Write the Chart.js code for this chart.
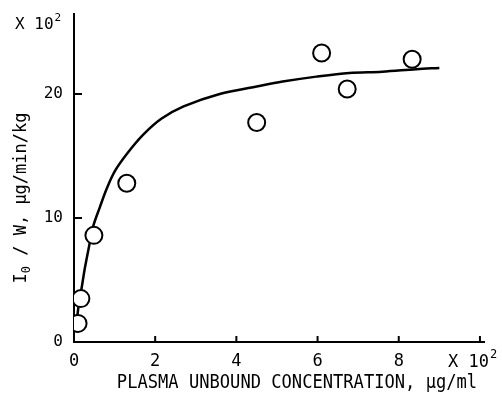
<!DOCTYPE html>
<html><head><meta charset="utf-8">
<script src="https://cdn.jsdelivr.net/npm/chart.js@4"></script>
<style>html,body{margin:0;padding:0;background:#fff}</style>
</head><body>
<canvas id="c" width="502" height="400"></canvas>
<script>
// fitted curve (x in 10^2 µg/ml, y in 10^2 µg/min/kg)
const curveX = [0.06, 0.1, 0.2, 0.27, 0.37, 0.47, 0.64, 0.81, 1.01, 1.31, 1.7, 2.15, 2.7, 3.59, 4.5, 5.14, 5.97, 6.78, 7.59, 8.43, 9.0];
const curveY = [1.2, 2.6, 4.6, 6.0, 7.7, 9.3, 10.9, 12.4, 13.8, 15.2, 16.7, 18.0, 19.0, 20.0, 20.6, 21.0, 21.4, 21.7, 21.8, 22.0, 22.1];
// observed points
const obsX = [0.1, 0.17, 0.49, 1.3, 4.5, 6.1, 6.73, 8.33];
const obsY = [1.5, 3.5, 8.6, 12.8, 17.7, 23.3, 20.4, 22.8];
const xTicks = [0, 2, 4, 6, 8, 10];
const yTicks = [0, 10, 20];
const xTitle = 'PLASMA UNBOUND CONCENTRATION, µg/ml';
const yTitleMain = 'I';
const yTitleSub = '0';
const yTitleRest = ' / W, µg/min/kg';
const multBase = 'X 10';
const multExp = '2';

const MONO = "'DejaVu Sans Mono', 'Liberation Mono', monospace";

const decor = {
  id: 'decor',
  afterDraw(chart) {
    const ctx = chart.ctx;
    const xs = chart.scales.x, ys = chart.scales.y;
    ctx.save();
    ctx.strokeStyle = '#000';
    ctx.fillStyle = '#000';
    ctx.lineWidth = 2;
    // inward tick marks
    yTicks.forEach(v => {
      if (v === 0) return;
      const py = ys.getPixelForValue(v);
      ctx.beginPath(); ctx.moveTo(xs.left, py); ctx.lineTo(xs.left + 8, py); ctx.stroke();
    });
    xTicks.forEach(v => {
      if (v === 0) return;
      const px = xs.getPixelForValue(v);
      ctx.beginPath(); ctx.moveTo(px, ys.bottom); ctx.lineTo(px, ys.bottom - 6); ctx.stroke();
    });
    // multiplier on y axis (top-left)
    ctx.textBaseline = 'alphabetic';
    ctx.textAlign = 'left';
    ctx.font = '16px ' + MONO;
    ctx.fillText(multBase, 15, 29);
    const w1 = ctx.measureText(multBase).width;
    ctx.font = '11px ' + MONO;
    ctx.fillText(multExp, 15 + w1 + 1, 21);
    // multiplier on x axis (right)
    ctx.font = '17px ' + MONO;
    const mx = xs.getPixelForValue(10) - 32;
    const my = ys.bottom + 25;
    ctx.fillText(multBase, mx, my);
    const w2 = ctx.measureText(multBase).width;
    ctx.font = '12px ' + MONO;
    ctx.fillText(multExp, mx + w2 + 1, my - 9);
    // x title (condensed tall mono)
    ctx.save();
    ctx.translate((xs.left + xs.right) / 2 + 18, 388);
    ctx.scale(0.9, 1);
    ctx.font = '19px ' + MONO;
    ctx.textAlign = 'center';
    ctx.fillText(xTitle, 0, 0);
    ctx.restore();
    // y title: I with subscript 0, then the rest
    ctx.save();
    ctx.translate(26, 198);
    ctx.rotate(-Math.PI / 2);
    ctx.textAlign = 'left';
    ctx.font = '17px ' + MONO;
    const wMain = ctx.measureText(yTitleMain).width;
    const wRest = ctx.measureText(yTitleRest).width;
    ctx.font = '12px ' + MONO;
    const wSub = ctx.measureText(yTitleSub).width;
    let x0 = -(wMain + wSub + wRest) / 2;
    ctx.font = '17px ' + MONO;
    ctx.fillText(yTitleMain, x0, 0);
    ctx.font = '12px ' + MONO;
    ctx.fillText(yTitleSub, x0 + wMain, 4);
    ctx.font = '17px ' + MONO;
    ctx.fillText(yTitleRest, x0 + wMain + wSub, 0);
    ctx.restore();
    ctx.restore();
  }
};

new Chart(document.getElementById('c'), {
  type: 'scatter',
  data: {
    datasets: [
      {
        label: 'observed',
        data: obsX.map((x, i) => ({ x, y: obsY[i] })),
        pointRadius: 8.5,
        pointBorderWidth: 2,
        pointBorderColor: '#000',
        pointBackgroundColor: '#fff',
        showLine: false,
        order: 0
      },
      {
        label: 'fit',
        data: curveX.map((x, i) => ({ x, y: curveY[i] })),
        showLine: true,
        pointRadius: 0,
        borderColor: '#000',
        borderWidth: 2.5,
        tension: 0.35,
        fill: false,
        order: 1
      }
    ]
  },
  options: {
    responsive: false,
    animation: false,
    layout: { padding: { left: 0, top: 14, right: 18, bottom: 0 } },
    plugins: { legend: { display: false }, tooltip: { enabled: false } },
    scales: {
      x: {
        type: 'linear', min: 0, max: 10.1,
        afterBuildTicks: s => { s.ticks = xTicks.map(v => ({ value: v })); },
        afterFit: s => { s.height = 58; },
        grid: { display: false, drawTicks: false },
        border: { display: true, color: '#000', width: 2 },
        ticks: {
          color: '#000', padding: 9,
          font: { family: MONO, size: 17 },
          callback: v => (v === 10 ? '' : String(v))
        }
      },
      y: {
        type: 'linear', min: 0, max: 26.45,
        afterBuildTicks: s => { s.ticks = yTicks.map(v => ({ value: v })); },
        afterFit: s => { s.width = 74; },
        grid: { display: false, drawTicks: true, tickLength: 11 },
        border: { display: true, color: '#000', width: 2 },
        ticks: {
          color: '#000', padding: 0,
          font: { family: MONO, size: 16 },
          callback: v => String(v)
        }
      }
    }
  },
  plugins: [decor]
});
</script>
</body></html>
